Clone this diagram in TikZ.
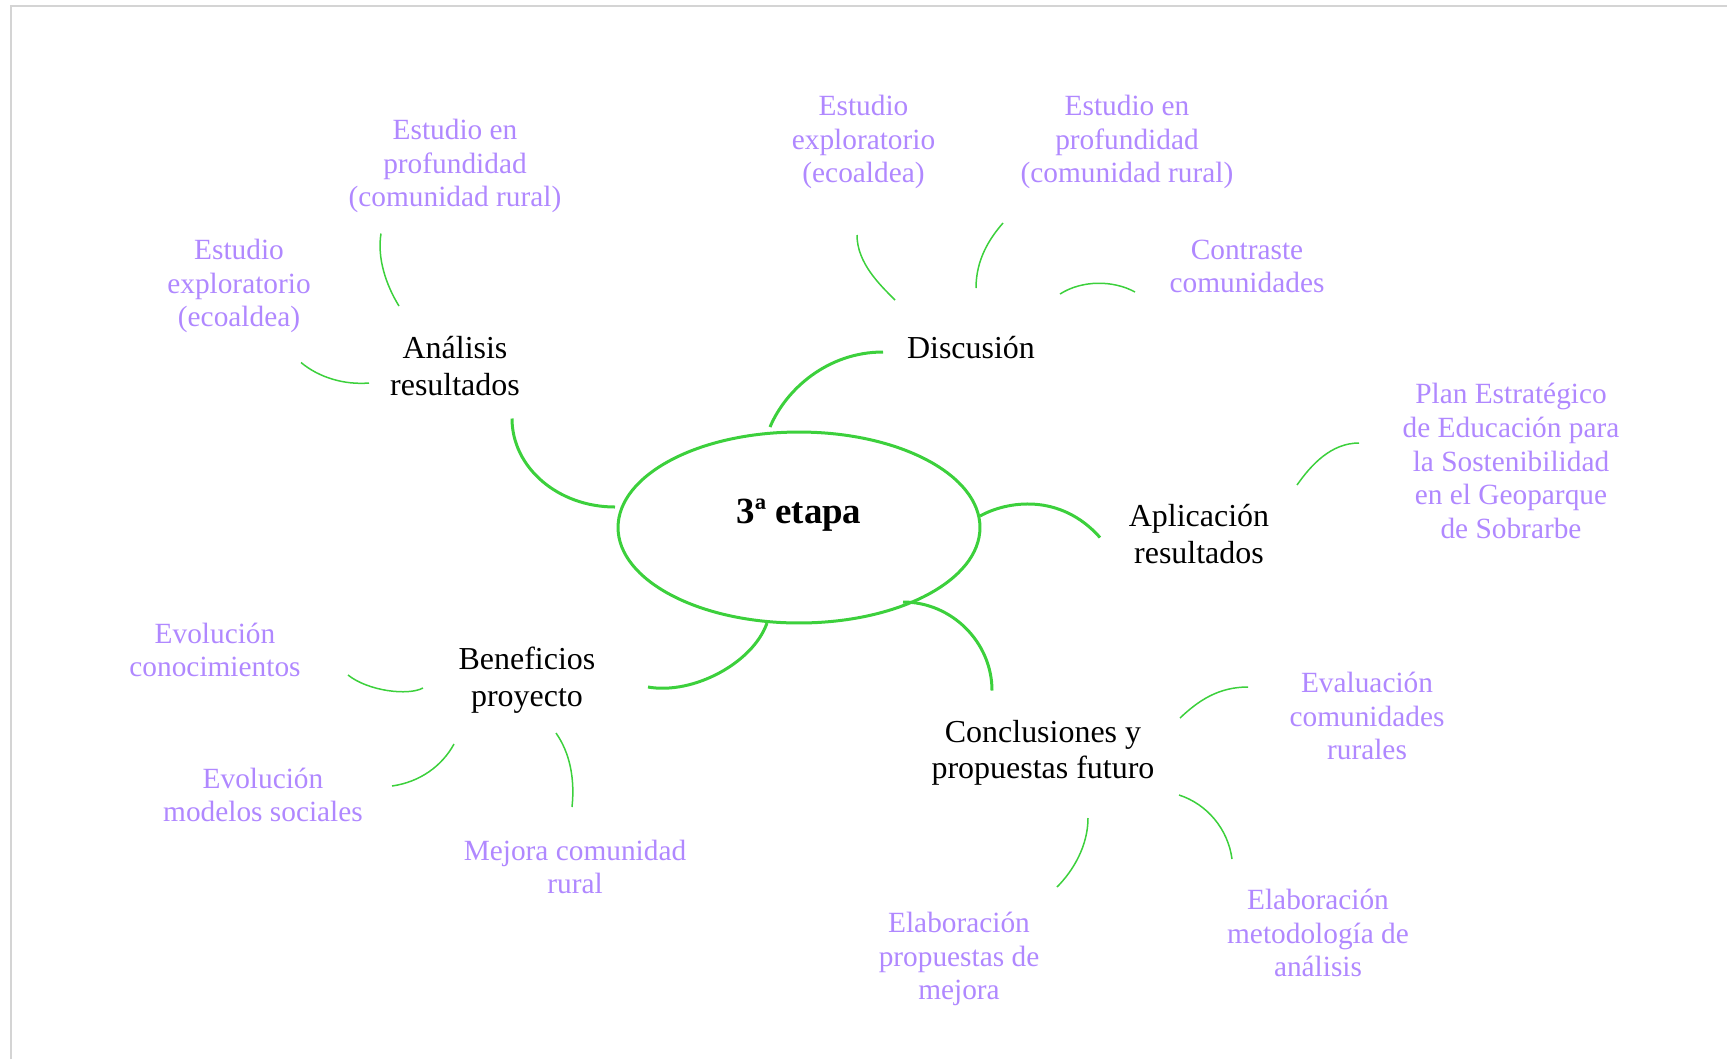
\documentclass[tikz,border=0pt]{standalone}
\usepackage{fontspec}
\setmainfont{Liberation Serif}
\usetikzlibrary{shapes.geometric}

\definecolor{mapgreen}{RGB}{60,208,60}
\definecolor{leafviolet}{RGB}{176,136,255}
\definecolor{framegray}{RGB}{212,212,212}

\tikzset{
	hub/.style={ellipse, draw=mapgreen, line width=0.06cm, minimum width=7.24cm, minimum height=3.82cm, inner sep=0pt,
		font=\fontsize{21pt}{25pt}\selectfont\bfseries, text height=0pt, text depth=4pt},
	topic/.style={align=center, inner sep=0pt, font=\fontsize{18.2pt}{20.8pt}\selectfont},
	leaf/.style={align=center, inner sep=0pt, text=leafviolet, font=\fontsize{16.7pt}{19.2pt}\selectfont},
	branch/.style={draw=mapgreen, line width=0.06cm},
	twig/.style={draw=mapgreen, line width=0.03cm}
}

\begin{document}
\begin{tikzpicture}[x=0.02cm, y=-0.02cm]
	\useasboundingbox (0,0) rectangle (1727,1059);
	\draw[framegray, line width=0.04cm] (11,1059) |- (1727,6);

	\node[hub] (hub) at (799,527.5) {3ª etapa};

	\begin{scope}[every node/.style={topic}]
		\node (analisis) at (455,366) {Análisis\\resultados};
		\node (discusion) at (971,348) {Discusión};
		\node (aplicacion) at (1199,534) {Aplicación\\resultados};
		\node (conclusiones) at (1043,753) {Conclusiones y\\propuestas futuro};
		\node (beneficios) at (527,680) {Beneficios\\proyecto};
	\end{scope}

	\begin{scope}[every node/.style={leaf}]
		\node (ana1) at (455,166) {Estudio en\\profundidad\\(comunidad rural)};
		\node (ana2) at (239,286) {Estudio\\exploratorio\\(ecoaldea)};
		\node (dis1) at (863.5,142) {Estudio\\exploratorio\\(ecoaldea)};
		\node (dis2) at (1127,142) {Estudio en\\profundidad\\(comunidad rural)};
		\node (dis3) at (1247,266.5) {Contraste\\comunidades};
		\node (apl1) at (1511,461) {Plan Estratégico\\de Educación para\\la Sostenibilidad\\en el Geoparque\\de Sobrarbe};
		\node (con1) at (1367,716) {Evaluación\\comunidades\\rurales};
		\node (con2) at (1318,933) {Elaboración\\metodología de\\análisis};
		\node (con3) at (959,959) {Elaboración\\propuestas de\\mejora};
		\node (ben1) at (215,650) {Evolución\\conocimientos};
		\node (ben2) at (263,795) {Evolución\\modelos sociales};
		\node (ben3) at (575,867) {Mejora comunidad\\rural};
	\end{scope}

	% hub to topics
	\draw[branch] ([shift={(-184,-20.5)}]hub.center) .. controls +(-57,0) and +(0,49) .. ([shift={(57,52.5)}]analisis.center);
	\draw[branch] ([shift={(-29,-100.5)}]hub.center) .. controls +(16,-38) and +(-55,0) .. ([shift={(-88,4)}]discusion.center);
	\draw[branch] ([shift={(181,-11.5)}]hub.center) .. controls +(27,-15) and +(-40,-45) .. ([shift={(-99,3.5)}]aplicacion.center);
	\draw[branch] ([shift={(104,74.5)}]hub.center) .. controls +(49,0) and +(0,-48) .. ([shift={(-51,-62.5)}]conclusiones.center);
	\draw[branch] ([shift={(-32,95.5)}]hub.center) .. controls +(-14,40) and +(45,8) .. ([shift={(121,7)}]beneficios.center);

	% topics to leaves
	\draw[twig] ([shift={(-56,-60)}]analisis.center) .. controls +(-13,-21) and +(-4,24.5) .. ([shift={(-74,67.5)}]ana1.center);
	\draw[twig] ([shift={(-86,17)}]analisis.center) .. controls +(-25,2) and +(18,15) .. ([shift={(62,76.5)}]ana2.center);
	\draw[twig] ([shift={(-76,-48)}]discusion.center) .. controls +(-15,-15) and +(0,28) .. ([shift={(-6.5,93)}]dis1.center);
	\draw[twig] ([shift={(5,-60)}]discusion.center) .. controls +(0,-28) and +(-14,16) .. ([shift={(-124,81)}]dis2.center);
	\draw[twig] ([shift={(89,-54)}]discusion.center) .. controls +(22,-14) and +(-22,-12) .. ([shift={(-112,25.5)}]dis3.center);
	\draw[twig] ([shift={(98,-49)}]aplicacion.center) .. controls +(14,-20) and +(-28,0) .. ([shift={(-152,-18)}]apl1.center);
	\draw[twig] ([shift={(137,-35)}]conclusiones.center) .. controls +(18,-17) and +(-30,0) .. ([shift={(-119,-29)}]con1.center);
	\draw[twig] ([shift={(136,42)}]conclusiones.center) .. controls +(28,9) and +(-4,-30) .. ([shift={(-86,-74)}]con2.center);
	\draw[twig] ([shift={(45,65)}]conclusiones.center) .. controls +(0,28) and +(16,-16) .. ([shift={(98,-72)}]con3.center);
	\draw[twig] ([shift={(-104,8)}]beneficios.center) .. controls +(-15,8) and +(20,16) .. ([shift={(133,25)}]ben1.center);
	\draw[twig] ([shift={(-73,64)}]beneficios.center) .. controls +(-12,22) and +(28,-4) .. ([shift={(129,-9)}]ben2.center);
	\draw[twig] ([shift={(29,53)}]beneficios.center) .. controls +(14,20) and +(3,-28) .. ([shift={(-3,-60)}]ben3.center);
\end{tikzpicture}
\end{document}
